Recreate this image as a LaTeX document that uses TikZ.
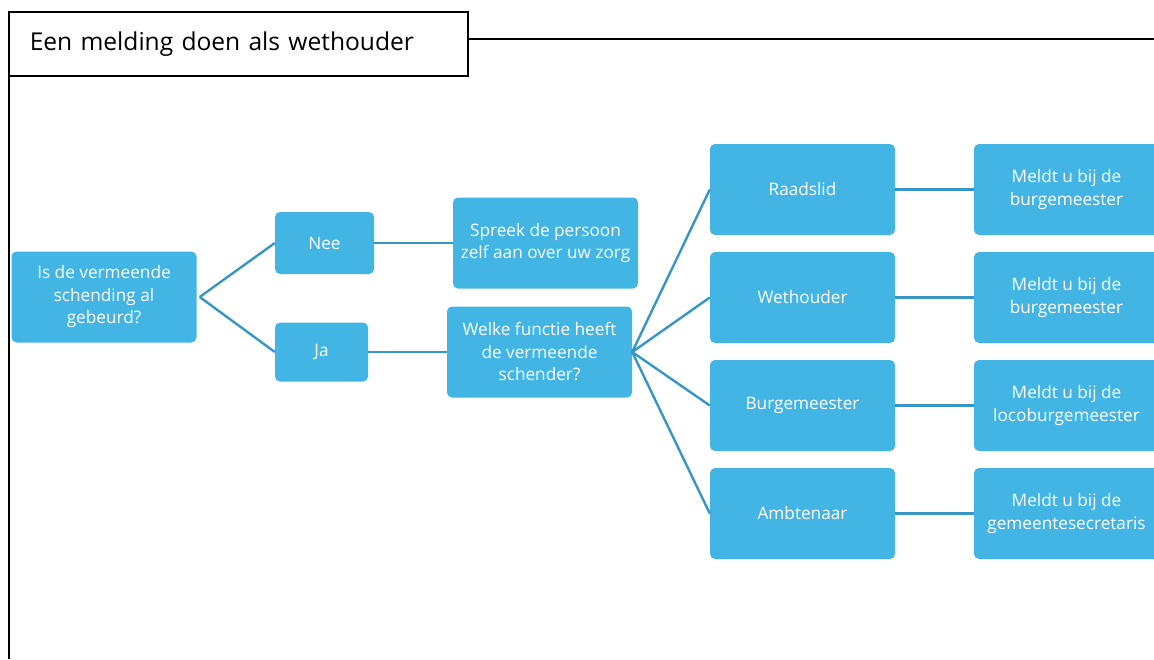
\documentclass[tikz,border=0pt]{standalone}
\usepackage{fontspec}
\setmainfont{Open Sans}
\usetikzlibrary{positioning}
\definecolor{boxblue}{RGB}{66,181,229}
\definecolor{lineblue}{RGB}{54,150,196}
\tikzset{stap/.style={rectangle, rounded corners=5pt, fill=boxblue, text=white, align=center, minimum width=185pt, minimum height=91pt, inner sep=2pt, font=\fontsize{17.2}{22.5}\selectfont}, kort/.style={stap, minimum width=96pt, minimum height=60pt}, verbind/.style={draw=lineblue, line width=2.4pt}, kader/.style={draw=black, line width=1.5pt}}

\begin{document}
\begin{tikzpicture}[x=1pt,y=-1pt]
    \useasboundingbox (0,0) rectangle (1154,659);
    \clip (0,0) rectangle (1154,659);
    \coordinate (rand) at (1154,39);
    \coordinate (bodem) at (9,659);
    \node[kader, anchor=north west, text width=417pt, inner xsep=21pt, minimum height=64pt, align=left, font=\fontsize{24.6}{28}\selectfont] (titel) at (8,11) {Een melding doen als wethouder};
    \draw[kader] (titel.east |- rand) -- (rand);
    \draw[kader] ([xshift=1pt]titel.south west) -- ([xshift=1pt]titel.south west |- bodem);
    \node[stap] (vraag) at (104,297) {Is de vermeende\\schending al\\gebeurd?};
    \node[kort, minimum width=99pt, minimum height=62pt] (nee) at (324.5,243) {Nee};
    \node[kort, minimum width=93pt, minimum height=59pt] (ja) at (321.5,352) {Ja};
    \node[stap] (spreek) at (545.5,243) {Spreek de persoon\\zelf aan over uw zorg};
    \node[stap] (functie) at (539.5,352) {Welke functie heeft\\de vermeende\\schender?};
    \node[stap] (raad) at (802.5,189.5) {Raadslid};
    \node[stap] (weth) at (802.5,297.5) {Wethouder};
    \node[stap] (burg) at (802.5,405.5) {Burgemeester};
    \node[stap] (ambt) at (802.5,513.5) {Ambtenaar};
    \node[stap] (meld1) at (1066.5,189.5) {Meldt u bij de\\burgemeester};
    \node[stap] (meld2) at (1066.5,297.5) {Meldt u bij de\\burgemeester};
    \node[stap] (meld3) at (1066.5,405.5) {Meldt u bij de\\locoburgemeester};
    \node[stap] (meld4) at (1066.5,513.5) {Meldt u bij de\\gemeentesecretaris};
    \draw[verbind] ([xshift=3pt]vraag.east) -- (nee.west);
    \draw[verbind] ([xshift=3pt]vraag.east) -- (ja.west);
    \draw[verbind] (nee.east) -- (spreek.west);
    \draw[verbind] (ja.east) -- (functie.west);
    \draw[verbind] (functie.east) -- (raad.west);
    \draw[verbind] (functie.east) -- (weth.west);
    \draw[verbind] (functie.east) -- (burg.west);
    \draw[verbind] (functie.east) -- (ambt.west);
    \draw[verbind] (raad.east) -- (meld1.west);
    \draw[verbind] (weth.east) -- (meld2.west);
    \draw[verbind] (burg.east) -- (meld3.west);
    \draw[verbind] (ambt.east) -- (meld4.west);
\end{tikzpicture}
\end{document}
